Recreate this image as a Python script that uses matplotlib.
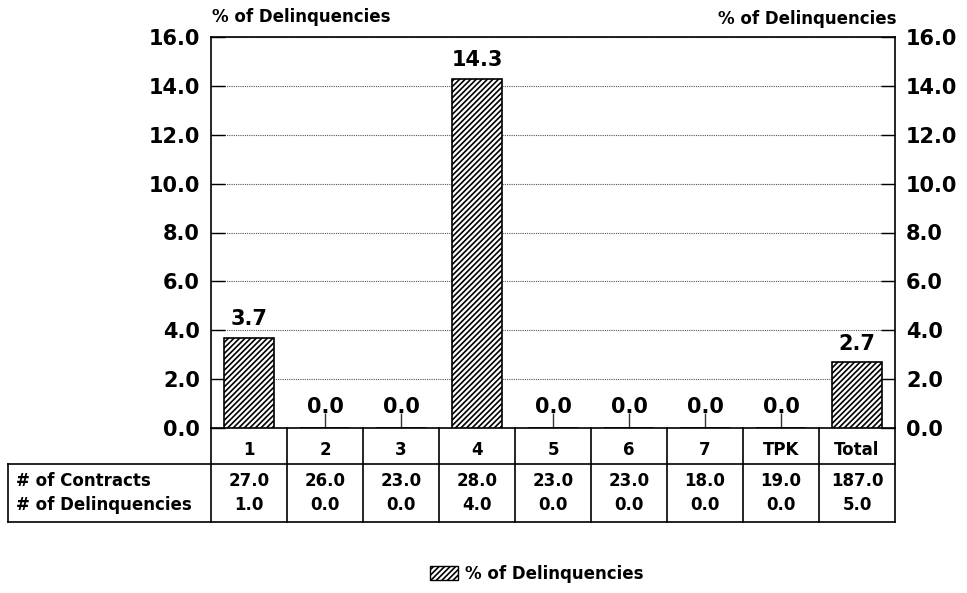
import numpy as np
import matplotlib
matplotlib.use('Agg')
import matplotlib.pyplot as plt
from matplotlib.patches import Patch

#------chart data------
categories = ['1', '2', '3', '4', '5', '6', '7', 'TPK', 'Total']
pct_delinq = [3.7, 0.0, 0.0, 14.3, 0.0, 0.0, 0.0, 0.0, 2.7]
n_contracts = [27.0, 26.0, 23.0, 28.0, 23.0, 23.0, 18.0, 19.0, 187.0]
n_delinq = [1.0, 0.0, 0.0, 4.0, 0.0, 0.0, 0.0, 0.0, 5.0]
row_labels = ['# of Contracts', '# of Delinquencies']
series_name = '% of Delinquencies'
yticks = [0, 2, 4, 6, 8, 10, 12, 14, 16]

plt.rcParams['hatch.linewidth'] = 1.2
W, H = 967, 593
fig = plt.figure(figsize=(W / 100, H / 100), dpi=100)

def box(x0, y0, x1, y1):
    """figure-fraction rect from pixel coords (top-left origin)"""
    return [x0 / W, 1 - y1 / H, (x1 - x0) / W, (y1 - y0) / H]

num_font = dict(family='DejaVu Sans', weight='bold', size=15)
tab_font = dict(family='DejaVu Sans', weight='bold', size=12)

#------main bar chart------
ax = fig.add_axes(box(211, 37, 895, 428))
x = np.arange(len(categories))
ax.bar(x, pct_delinq, width=0.66, color='white', edgecolor='black',
       hatch='//////', linewidth=1.2, zorder=3)
for xi, v in zip(x, pct_delinq):
    ax.annotate('{:.1f}'.format(v), (xi, v), xytext=(0, 6 if v > 0 else 8),
                textcoords='offset points', ha='center', va='bottom',
                **num_font)
ax.set_xlim(-0.5, len(categories) - 0.5)
ax.set_ylim(0, 16)
ax.set_yticks(yticks)
ax.set_yticklabels(['{:.1f}'.format(t) for t in yticks])
ax.set_xticks(x)
ax.set_xticklabels([])
ax.tick_params(axis='x', direction='in', length=11, width=1, color='#333333')
ax.tick_params(axis='y', direction='in', length=10, width=1, pad=8,
               right=True, labelright=True)
for t in ax.yaxis.get_major_ticks():
    t.label1.set(**num_font)
    t.label2.set(**num_font)
ax.yaxis.grid(True, linestyle=(0, (1, 1)), linewidth=0.8, color='#555555',
              zorder=0)
for s in ax.spines.values():
    s.set_linewidth(1.2)
fig.text(212 / W, 1 - 17 / H, series_name, ha='left', va='center', **tab_font)
fig.text(897 / W, 1 - 19 / H, series_name, ha='right', va='center', **tab_font)

#------data table below the bars------
lab_w = 203 / 76.0
tab = fig.add_axes(box(8, 428, 895, 522))
tab.set_xlim(-0.5 - lab_w, len(categories) - 0.5)
tab.set_ylim(0, 94)
tab.axis('off')
lk = dict(color='black', linewidth=1.2, solid_capstyle='projecting',
          clip_on=False)
left = -0.5 - lab_w
right = len(categories) - 0.5
tab.plot([left, right], [0, 0], **lk)
tab.plot([left, right], [58, 58], **lk)
tab.plot([left, left], [0, 58], **lk)
for k in range(len(categories) + 1):
    tab.plot([k - 0.5, k - 0.5], [0, 94], **lk)
for xi, c, n1, n2 in zip(x, categories, n_contracts, n_delinq):
    tab.text(xi, 72, c, ha='center', va='center', **tab_font)
    tab.text(xi, 41, '{:.1f}'.format(n1), ha='center', va='center', **tab_font)
    tab.text(xi, 17, '{:.1f}'.format(n2), ha='center', va='center', **tab_font)
tab.text(left + 8 / 76.0, 41, row_labels[0], ha='left', va='center', **tab_font)
tab.text(left + 8 / 76.0, 17, row_labels[1], ha='left', va='center', **tab_font)

#------legend------
handle = Patch(facecolor='white', edgecolor='black', hatch='//////', linewidth=1)
fig.legend([handle], [series_name], loc='center', bbox_to_anchor=(0.555, 0.032),
           frameon=False, prop=dict(family='DejaVu Sans', weight='bold', size=12),
           handlelength=1.7, handleheight=0.9, handletextpad=0.4)

fig.savefig('out.png', dpi=100)
